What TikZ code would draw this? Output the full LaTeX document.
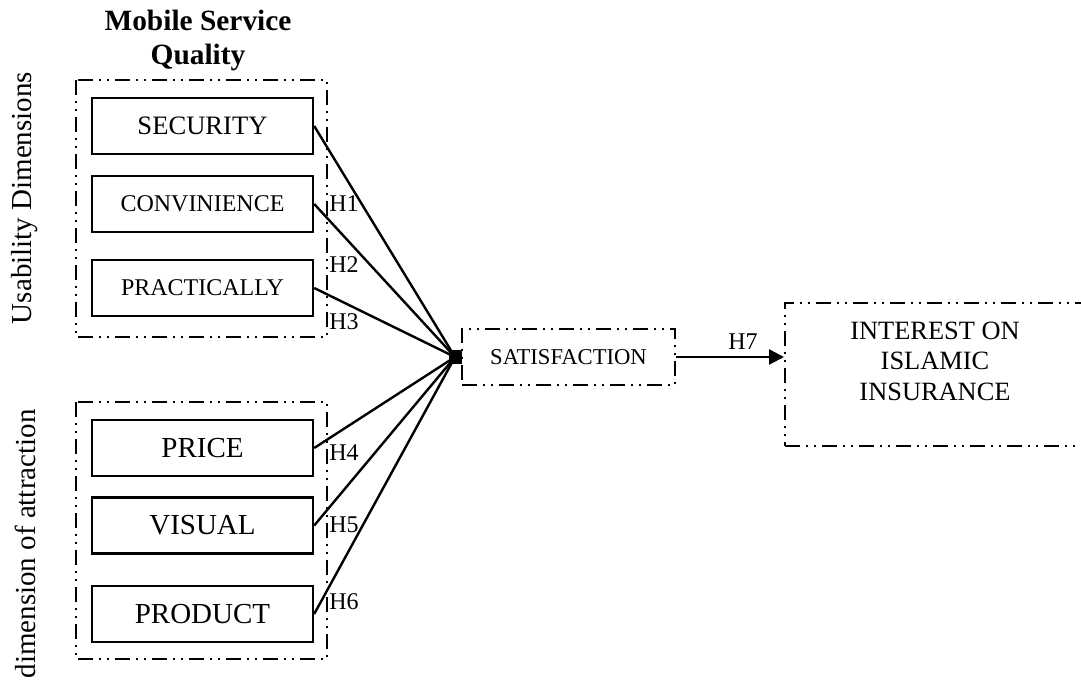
\documentclass[tikz,border=0pt]{standalone}
\usepackage{fontspec}
\setmainfont{Liberation Serif}
\usetikzlibrary{arrows.meta}

\begin{document}
\begin{tikzpicture}[x=0.5pt,y=-0.5pt,line join=miter,>={Triangle[length=7.5pt,width=7.5pt]},
	dimbox/.style={draw,line width=1pt,dash pattern=on 7.5pt off 3pt on 1pt off 3pt on 1pt off 3pt},
	itembox/.style={draw,line width=1.2pt,minimum width=110.5pt,minimum height=28pt,inner sep=0pt},
	hlab/.style={anchor=west,inner sep=0pt,font=\fontsize{12}{14}\selectfont}]
	\useasboundingbox (0,0) rectangle (1081,684);
	% title and side labels
	\node[align=center,font=\bfseries\fontsize{14.7}{17}\selectfont] (title) at (198,40) {Mobile Service\\Quality};
	\node[rotate=90,font=\fontsize{14.5}{17}\selectfont] (usab) at (25,198) {Usability Dimensions};
	\node[rotate=90,font=\fontsize{14.5}{17}\selectfont] (attr) at (25,544) {dimension of attraction};
	% dimension groups
	\draw[dimbox] (76,80) rectangle (327,337);
	\draw[dimbox] (76,402) rectangle (327,659);
	\node[itembox,font=\fontsize{13.3}{15}\selectfont] (sec) at (202.5,126) {SECURITY};
	\node[itembox,font=\fontsize{12}{14}\selectfont] (con) at (202.5,204) {CONVINIENCE};
	\node[itembox,font=\fontsize{12}{14}\selectfont] (pra) at (202.5,288) {PRACTICALLY};
	\node[itembox,font=\fontsize{14.5}{17}\selectfont] (pri) at (202.5,448) {PRICE};
	\node[itembox,font=\fontsize{14.5}{17}\selectfont] (vis) at (202.5,525.5) {VISUAL};
	\node[itembox,font=\fontsize{14.5}{17}\selectfont] (pro) at (202.5,614) {PRODUCT};
	% satisfaction and interest
	\node[dimbox,minimum width=106.5pt,minimum height=28pt,inner sep=0pt,font=\fontsize{11.3}{13}\selectfont] (sat) at (568.5,357) {SATISFACTION};
	\node[dimbox,minimum width=151.5pt,minimum height=71.5pt,inner sep=0pt] (int) at (936.5,374.5) {};
	\node[align=center,font=\fontsize{13.2}{15.25}\selectfont] (intlbl) at (935,361) {INTEREST ON\\ISLAMIC\\INSURANCE};
	% paths
	\coordinate (hub) at (455,357);
	\foreach \b in {sec,con,pra,pri,vis,pro}
		\draw[line width=1.2pt] (\b.east) -- (hub);
	\fill (449,350) rectangle (462,364);
	\draw[->,line width=1.2pt] (sat.east) -- (sat.east -| int.west) node[pos=0.62,above=0pt,font=\fontsize{12}{14}\selectfont] (h7) {H7};
	% hypothesis labels
	\node[hlab] (h1) at (329,204) {H1};
	\node[hlab] (h2) at (329,265) {H2};
	\node[hlab] (h3) at (329,322) {H3};
	\node[hlab] (h4) at (329,453) {H4};
	\node[hlab] (h5) at (329,525) {H5};
	\node[hlab] (h6) at (329,602) {H6};
\end{tikzpicture}
\end{document}
